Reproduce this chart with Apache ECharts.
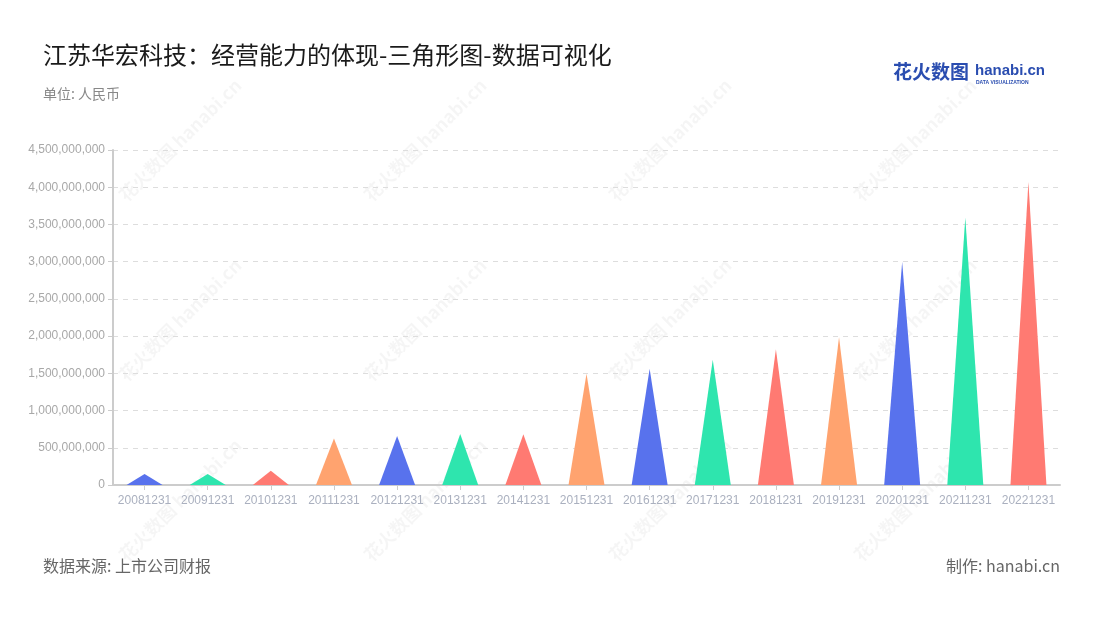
<!DOCTYPE html>
<html><head><meta charset="utf-8">
<script src="https://cdn.jsdelivr.net/npm/echarts@6/dist/echarts.min.js"></script>
<style>html,body{margin:0;padding:0;background:#fff}#c{width:1100px;height:620px}</style>
</head><body><div id="c"></div>
<script>
const categories = ['20081231','20091231','20101231','20111231','20121231','20131231','20141231','20151231','20161231','20171231','20181231','20191231','20201231','20211231','20221231'];
const values = [148000000,148000000,192000000,626000000,657000000,685000000,682000000,1495000000,1560000000,1682000000,1825000000,1985000000,2995000000,3592000000,4070000000];
const palette = ['#5872ED','#2EE5AE','#FF7A72','#FFA36F'];
const yTicks = {min:0, max:4500000000, interval:500000000};

const chart = echarts.init(document.getElementById('c'));
const cjk = '"Noto Sans CJK SC", "Noto Sans", sans-serif';
const wm = [];
const wmX = [180, 425, 670, 915];
const wmY = [140, 320, 500];
wmY.forEach(y => wmX.forEach(x => {
  wm.push({type:'text', x:x, y:y, rotation:Math.PI/4, silent:true, z:-1,
    style:{text:'花火数图 hanabi.cn', fill:'rgba(0,0,0,0.04)', font:'bold 18px '+cjk, align:'center', verticalAlign:'middle'}});
}));
chart.setOption({
  backgroundColor:'#fff',
  animation:false,
  title:[
    {text:'江苏华宏科技：经营能力的体现-三角形图-数据可视化', left:38, top:38,
     textStyle:{fontFamily:cjk, fontSize:24, fontWeight:'normal', color:'#1a1a1a'}},
    {text:'单位: 人民币', left:38, top:82, textStyle:{fontFamily:cjk, fontSize:14, fontWeight:'normal', color:'#888'}},
    {text:'数据来源: 上市公司财报', left:38, top:553, textStyle:{fontFamily:cjk, fontSize:16, fontWeight:'normal', color:'#666'}},
    {text:'制作: hanabi.cn', right:35, top:553, textStyle:{fontFamily:cjk, fontSize:16, fontWeight:'normal', color:'#666'}}
  ],
  graphic: wm.concat([
    {type:'text', left:893, top:62, style:{text:'花火数图', fill:'#2a4db0', font:'bold 19px '+cjk}},
    {type:'text', left:975, top:63, style:{text:'hanabi.cn', fill:'#2a4db0', font:'bold 15px Verdana, sans-serif'}},
    {type:'text', left:976, top:80, style:{text:'DATA VISUALIZATION', fill:'#2a4db0', font:'bold 5px Verdana, sans-serif'}}
  ]),
  grid:{left:113, right:40, top:150, bottom:135},
  xAxis:{type:'category', data:categories,
    axisLine:{lineStyle:{color:'#ccc', width:2}},
    axisTick:{show:true, alignWithLabel:true, lineStyle:{color:'#ccc'}},
    axisLabel:{color:'#aab0bf', fontSize:12, margin:10, interval:0, fontFamily:'"Liberation Sans", Arial, sans-serif'}},
  yAxis:{type:'value', min:yTicks.min, max:yTicks.max, interval:yTicks.interval,
    axisLine:{show:true, lineStyle:{color:'#ccc', width:2}},
    axisTick:{show:true, length:5, lineStyle:{color:'#ccc'}},
    axisLabel:{color:'#a8a8a8', fontSize:12, margin:8, fontFamily:'"Liberation Sans", Arial, sans-serif',
      formatter:v => v.toLocaleString('en-US')},
    splitLine:{lineStyle:{color:'#ddd', type:[5,5]}}},
  series:[{type:'pictorialBar', symbol:'triangle', symbolSize:[36,'100%'], barWidth:'60%',
    data:values,
    itemStyle:{color:p => palette[p.dataIndex % palette.length]}}]
});
</script></body></html>
